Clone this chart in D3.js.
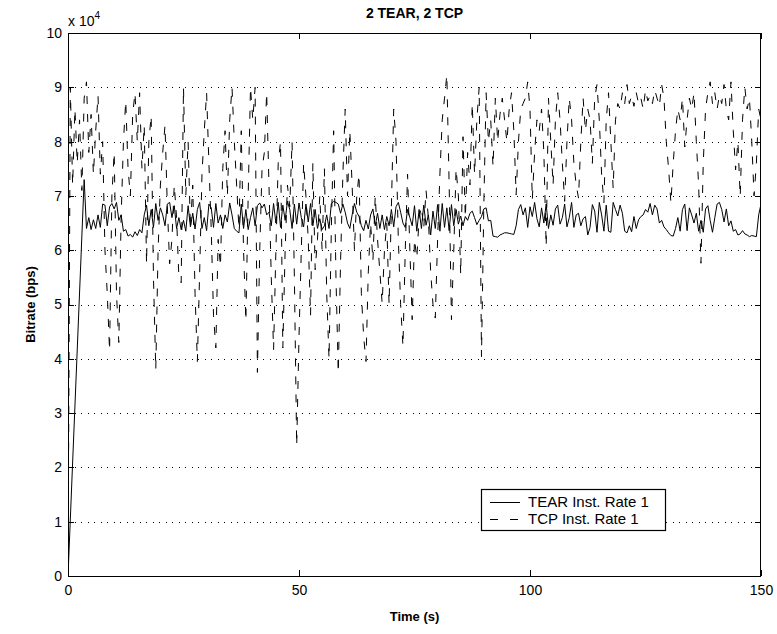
<!DOCTYPE html>
<html><head><meta charset="utf-8">
<script src="https://cdn.jsdelivr.net/npm/d3@7"></script>
<style>
html,body{margin:0;padding:0;background:#fff;}
svg{display:block;font-family:"Liberation Sans",Arial,sans-serif;}
</style></head>
<body>
<svg id="chart" width="777" height="634"></svg>
<script>
// ---- data (rates in kbps; sample step 0.5 s) ----
const title = "2 TEAR, 2 TCP";
const xLabel = "Time (s)";
const yLabel = "Bitrate (bps)";
const seriesNames = ["TEAR Inst. Rate 1", "TCP Inst. Rate 1"];
const xTicks = [0, 50, 100, 150];
const yTicks = [0, 1, 2, 3, 4, 5, 6, 7, 8, 9, 10]; // x 10^4
const sampleStep = 0.5;

// TEAR: origin point then samples from t = 3.5 s
const tearOrigin = [0, 0];
const tearStart = 3.5;
const tearRate = [
73,64,66,63.8,65.6,64,66.5,64.2,68.5,68.3,
64.5,68,68.6,67.6,68.8,65.5,66.5,63.5,63.8,62.6,
62.9,62.4,63.4,62.7,63.8,63.2,66.5,68.3,64.5,67.5,
64.2,68.6,65.5,67.8,66.5,64.5,68.5,68.8,66,68.2,
64,66,63.8,65.5,63.5,68.2,64.3,66.8,63.9,67.5,
68.8,64,66,63.6,68.5,67.8,64.2,68.6,65,66.5,
64,66.5,65.2,68.7,66.5,64,63.5,63.2,68.5,64,
67.5,63.8,66,67.8,64.5,68.2,68.7,67.8,68.5,66.5,
67,64.5,68.6,65,68.8,64.2,68.3,65.5,69,67.5,
64,68.5,64.8,68.7,66,64.3,68.5,65.2,68.6,64.5,
67.5,64,65.8,63.8,64.5,66.5,64,68.6,69,68.8,
68.5,66.8,68.5,67,65,64,66.5,68.6,67,66.2,
64.5,63.6,65.5,63.9,66.5,67.6,64.5,66.8,64,66.5,
63.8,66.2,64.5,67.5,64.3,68,68.8,67,65,64.2,
67.5,66,64.5,68.2,63.5,67.5,64,68.3,64.6,66.5,
62.8,67.2,64,68.4,63.5,68.6,64.2,67.8,63.6,68.4,
64.5,67.5,64.8,66.3,64.5,66.2,65.5,66.8,67.2,66,
64.7,65.5,66.2,67.6,67.8,65.4,65.5,62.6,62.5,62.4,
62.8,63,63.2,63.2,63.1,63,62.9,64.5,67.5,68.4,
66.5,67.8,64.2,68,66.2,68.8,65.8,64.3,67.8,65,
68.5,64,66.5,64.6,67.6,68.3,64.8,66,68.5,64.3,
66,68.8,64.2,66.5,66.8,64.5,65.8,66.2,62.8,64.2,
68.4,67.2,63.3,68.8,66.5,63.5,68.3,63.5,63.3,68.8,
67.5,66.3,68.3,66.8,63.5,63.2,64.5,63.4,66.2,64,
65.6,66.2,66.5,67.5,67,68.6,66.5,68.3,67.6,65,
65.5,64.3,63.8,63.2,62.7,62.6,64,66,63.5,67.5,
68.5,63.6,67.8,66.5,65,66.8,63.5,65.5,63.3,67.6,
68.2,65.5,63.3,66,68.5,68.8,67.5,65.2,67.6,64.5,
65.4,63.5,63.8,62.8,63,63.6,63,62.8,62.5,62.7,
62.6,62.5,66.5,68.5
];

// TCP: origin point then samples from t = 0.5 s
const tcpOrigin = [0, 0];
const tcpStart = 0.5;
const tcpRate = [
90,72,86,76,84,71,88,91,78,85,
74,82,88.5,74,80,60,52,41.5,70,78,
52,43,66,80,87.5,75,70,85,89,80,
89,75,83,57.5,80,84.8,55,38,60,72,
78,83,68,57.5,62,72,66,55,54,90,
70,80,64,72,52,39.5,56,74,82,89,
76,64,48,42,62,57,75,82,70,84,
90,80,72,64,82,60,47,70,90,84,
90,37.5,60,75,78,89,72,55,41.7,60,
76,80,42,60,72,68,80,55,24,44,
60,76,70,62,48,76,56.4,62,70,60,
75,52,40,64,82,55,37.4,58,74,86,
70,82,72,60,70,74,52,44,39.5,56,
65,58,70,62,56,50.2,60,65,50,68,
86,80,62,50,42.3,60,74,60,47.2,62,
58.5,66,68,64,71,66,56,50,47.5,62,
74,84,88,92.3,72,47.2,60,75,70,55.5,
80.9,66,78,72,87,74,84,90,40.4,68,
89,80,84,75.4,88,80,85,88,84,80,
86,89,82,70.2,80,86,87,88,91,86,
69.3,78,84,82,86,78,60.7,88,80,72,
84,89,84,76,69,80,88,84,76,72,
69.6,80,88,82,86,84,76,88,90.5,84,
74,68.7,84,89,80,71.4,84,87,86,89,
87,90.5,87,88.5,86.5,89,87,88,86,89.5,
87.5,88.5,87,89.5,88,86.5,90.5,88,80,75,
68.7,76,82,86,84,88,79,84,88,86,
89,80,72,57.6,76,86,89,91,87,89,
86,88.5,87,90.5,86,84,91,82,74.8,80,
69.9,84,90,86,88,80,70,76,86,84
];

// ---- layout ----
const svg = d3.select("#chart");
const L = 68, R = 761, T = 33, B = 576;
const x = d3.scaleLinear().domain([0, 150]).range([L, R]);
const y = d3.scaleLinear().domain([0, 100000]).range([B, T]);

function toPoints(origin, start, vals) {
  const pts = [{t: origin[0], v: origin[1] * 1000}];
  vals.forEach((v, i) => pts.push({t: start + i * sampleStep, v: v * 1000}));
  return pts;
}
const tearPts = toPoints(tearOrigin, tearStart, tearRate);
const tcpPts = toPoints(tcpOrigin, tcpStart, tcpRate);

// grid (horizontal dotted)
svg.append("g").selectAll("line").data(yTicks.filter(d => d > 0 && d < 10)).join("line")
  .attr("x1", L).attr("x2", R)
  .attr("y1", d => Math.round(y(d * 10000)) + 0.5).attr("y2", d => Math.round(y(d * 10000)) + 0.5)
  .attr("stroke", "#000").attr("stroke-width", 1).attr("stroke-dasharray", "1,5.5")
  .attr("shape-rendering", "crispEdges");

// lines
const line = d3.line().x(d => x(d.t)).y(d => y(d.v));
svg.append("clipPath").attr("id", "clp").append("rect")
  .attr("x", L).attr("y", T).attr("width", R - L).attr("height", B - T);
svg.append("path").datum(tcpPts).attr("d", line).attr("fill", "none")
  .attr("stroke", "#000").attr("stroke-width", 1).attr("stroke-dasharray", "8,10")
  .attr("clip-path", "url(#clp)");
svg.append("path").datum(tearPts).attr("d", line).attr("fill", "none")
  .attr("stroke", "#000").attr("stroke-width", 1)
  .attr("clip-path", "url(#clp)");

// axes (Matlab style: ticks inside on all sides, box)
const tickLen = 6;
const axL = d3.axisLeft(y).tickValues(yTicks.map(d => d * 10000)).tickFormat(d => String(d / 10000)).tickSizeInner(-tickLen).tickSizeOuter(0).tickPadding(6);
const axR = d3.axisRight(y).tickValues(yTicks.map(d => d * 10000)).tickFormat("").tickSizeInner(-tickLen).tickSizeOuter(0);
const axB = d3.axisBottom(x).tickValues(xTicks).tickFormat(d3.format("d")).tickSizeInner(-tickLen).tickSizeOuter(0).tickPadding(9);
const axT = d3.axisTop(x).tickValues(xTicks).tickFormat("").tickSizeInner(-tickLen).tickSizeOuter(0);

function styleAxis(g) {
  g.select(".domain").remove();
  g.selectAll(".tick line").attr("stroke", "#000").attr("shape-rendering", "crispEdges");
  g.selectAll(".tick text").attr("fill", "#000").style("font-size", "14px")
    .style("font-family", "'Liberation Sans', Arial, sans-serif");
}
svg.append("g").attr("transform", `translate(${L},0)`).call(axL).call(styleAxis);
svg.append("g").attr("transform", `translate(${R},0)`).call(axR).call(styleAxis);
svg.append("g").attr("transform", `translate(0,${B})`).call(axB).call(styleAxis);
svg.append("g").attr("transform", `translate(0,${T})`).call(axT).call(styleAxis);

svg.append("rect").attr("x", L + 0.5).attr("y", T + 0.5).attr("width", R - L - 1).attr("height", B - T)
  .attr("fill", "none").attr("stroke", "#000").attr("stroke-width", 1.2).attr("shape-rendering", "crispEdges");

// exponent label
const ex = svg.append("text").attr("x", L).attr("y", 26).style("font-size", "14px");
ex.append("tspan").text("x 10");
ex.append("tspan").attr("dy", -7).style("font-size", "10px").text("4");

// title and axis labels
svg.append("text").attr("x", (L + R) / 2).attr("y", 18).attr("text-anchor", "middle")
  .style("font-size", "14px").style("font-weight", "bold").text(title);
svg.append("text").attr("x", (L + R) / 2).attr("y", 621).attr("text-anchor", "middle")
  .style("font-size", "13px").style("font-weight", "bold").text(xLabel);
svg.append("text").attr("transform", `translate(35,${(T + B) / 2}) rotate(-90)`).attr("text-anchor", "middle")
  .style("font-size", "13px").style("font-weight", "bold").text(yLabel);

// legend
const lg = svg.append("g");
lg.append("rect").attr("x", 481.5).attr("y", 489.5).attr("width", 184).attr("height", 41)
  .attr("fill", "#fff").attr("stroke", "#000").attr("stroke-width", 1.2);
const legY = [502, 519];
const legDash = [null, "8,12"];
seriesNames.forEach((name, i) => {
  lg.append("line").attr("x1", 490).attr("x2", 520).attr("y1", legY[i] + 0.5).attr("y2", legY[i] + 0.5)
    .attr("stroke", "#000").attr("stroke-width", 1).attr("stroke-dasharray", legDash[i]);
  lg.append("text").attr("x", 528).attr("y", legY[i] + 5).style("font-size", "15px").text(name);
});
</script>
</body></html>
